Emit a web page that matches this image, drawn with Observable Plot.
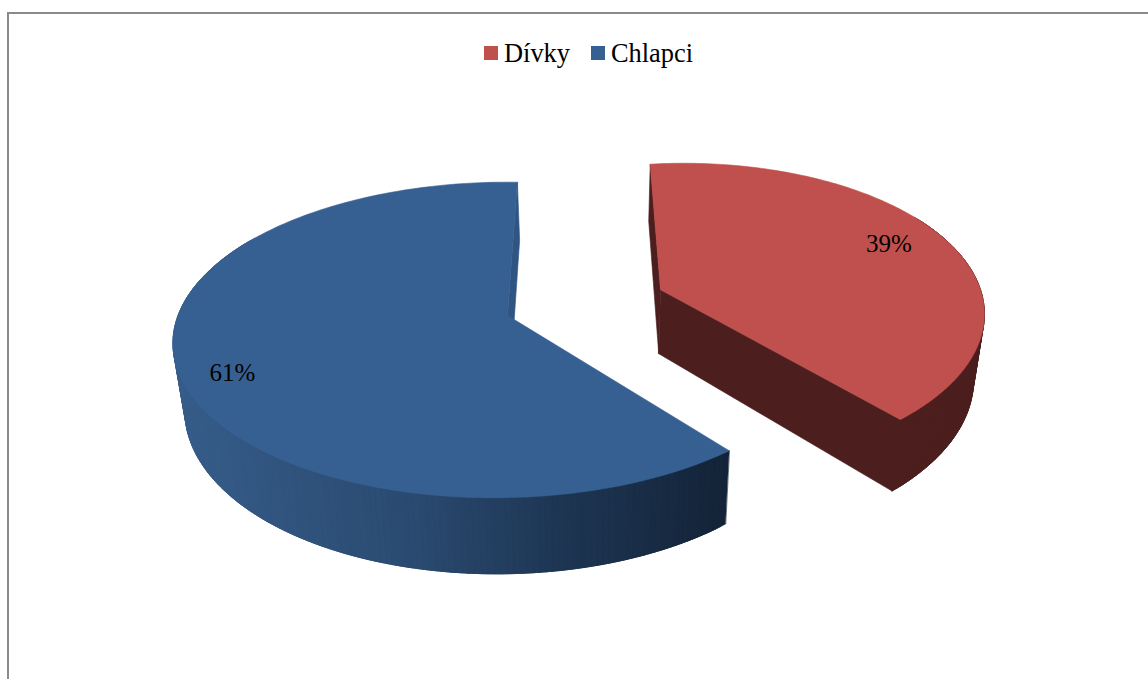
<!DOCTYPE html>
<html lang="cs">
<head>
<meta charset="utf-8">
<script src="https://cdn.jsdelivr.net/npm/d3@7"></script>
<script src="https://cdn.jsdelivr.net/npm/@observablehq/plot@0.6"></script>
<style>
html,body{margin:0;padding:0;background:#fff;overflow:hidden}
#wrap{position:relative;width:1148px;height:679px;font-family:"Liberation Serif",serif;color:#000}
#frame{position:absolute;left:7px;top:12px;right:-4px;bottom:-4px;border:2px solid #8a8a8a;box-sizing:border-box}
#legend{position:absolute;left:484px;top:38px;display:flex;align-items:center;font-size:26.4px;line-height:30px;white-space:nowrap}
#legend i{display:inline-block;width:14px;height:14px;margin-right:6px;margin-top:0}
#legend span{margin-right:21px}
svg{display:block;position:absolute;left:0;top:0;background:transparent}
</style>
</head>
<body>
<div id="wrap"><div id="frame"></div><div id="legend"></div></div>
<script>
// data
const categories = ["Dívky", "Chlapci"];
const shares = [39, 61];
const labels = ["39%", "61%"];
const topColors = ["#c0504d", "#376092"];

// camera of the 3D pie, one per exploded slice (not data)
const cameras = [
  {cx: 660, cy: 289, rx: 297.5, ry: 147.4, k: .17, j: .07, sh: -6.1, t0: -3.5, labelT: 68, labelR: .82},
  {cx: 507, cy: 315, rx: 323.5, ry: 154, k: .155, j: -.018, sh: -5.8, t0: 1, labelT: 246, labelR: .86}
];
const W = 1148, H = 679;
const rad = Math.PI / 180;
function topPoint(cam, t, r = 1) {
  const X = r * Math.sin(t * rad), Y = -r * Math.cos(t * rad);
  const s = 1 / (1 - cam.k * Y - cam.j * X);
  return [cam.cx + (cam.rx * X + cam.sh * Y) * s, cam.cy + cam.ry * Y * s];
}
const lower = ([x, y]) => [16.7 + .972 * x, 47.7 + 1.057 * y];

// accumulate shares into angles
const total = d3.sum(shares);
let acc = 0;
const slices = categories.map((name, i) => {
  const from = acc / total * 360; acc += shares[i];
  return {name, i, from, to: acc / total * 360};
});

const polys = [];
let id = 0;
function poly(points, fill) {
  const z = id++;
  for (const [x, y] of points) polys.push({x, y, z, fill});
}
// one band of the outer wall between two angles; bands overlap so no seam shows
function band(cam, t1, t2, fill) {
  const p = d3.range(t1, t2, .5).concat(t2).map(t => topPoint(cam, t));
  poly([...p, ...p.map(lower).reverse()], fill);
}
const blueWall = d3.scaleLinear().domain([180, 420, 560, 730]).range(["#365d8a", "#2a4a70", "#1e3654", "#132337"]);

// red slice: side faces, wall, then top
{
  const cam = cameras[0], s = slices[0];
  const a = s.from + cam.t0, b = s.to + cam.t0;
  const ap = topPoint(cam, 0, 0), st = topPoint(cam, a), en = topPoint(cam, b);
  const wallRed = "#4c1f1e";
  poly([ap, st, lower(st), lower(ap)], wallRed);
  poly([ap, en, lower(en), lower(ap)], wallRed);
  for (const t of d3.range(60, b - 2, 1)) band(cam, t, t + 3, wallRed);
  band(cam, b - 3, b, wallRed);
  poly([ap, ...d3.range(a, b, 1).concat(b).map(t => topPoint(cam, t))], topColors[0]);
}
// blue slice: the wall is laid from the right end to the left
{
  const cam = cameras[1], s = slices[1];
  const a = s.from + cam.t0, b = s.to + cam.t0;
  const ap = topPoint(cam, 0, 0), en = topPoint(cam, b);
  poly([ap, en, lower(en), lower(ap)], "#2f5583");
  for (const t of d3.range(a, 300, 1)) {
    const color = d3.color(blueWall(lower(topPoint(cam, t))[0])).formatHex();
    band(cam, t, t + 3, color);
  }
  poly([ap, ...d3.range(a, b, 1).concat(b).map(t => topPoint(cam, t))], topColors[1]);
}

const labelRows = slices.map(s => {
  const cam = cameras[s.i];
  const [x, y] = topPoint(cam, cam.labelT, cam.labelR);
  return {x, y, text: labels[s.i]};
});

const chart = Plot.plot({
  width: W, height: H,
  margin: 0,
  x: {domain: [0, W], range: [0, W], axis: null},
  y: {domain: [0, H], range: [0, H], axis: null},
  color: {type: "identity"},
  style: {background: "transparent"},
  marks: [
    Plot.line(polys, {x: "x", y: "y", z: "z", fill: "fill", stroke: d => d.fill, strokeWidth: .6, curve: "linear-closed"}),
    Plot.text(labelRows, {x: "x", y: "y", text: "text", fill: "#000", fontSize: 25, fontFamily: "Liberation Serif"})
  ]
});
const wrap = document.getElementById("wrap");
wrap.appendChild(chart);
const legend = document.getElementById("legend");
categories.forEach((c, i) => {
  const sw = document.createElement("i"); sw.style.background = topColors[i];
  const t = document.createElement("span"); t.textContent = c;
  legend.append(sw, t);
});
</script>
</body>
</html>
